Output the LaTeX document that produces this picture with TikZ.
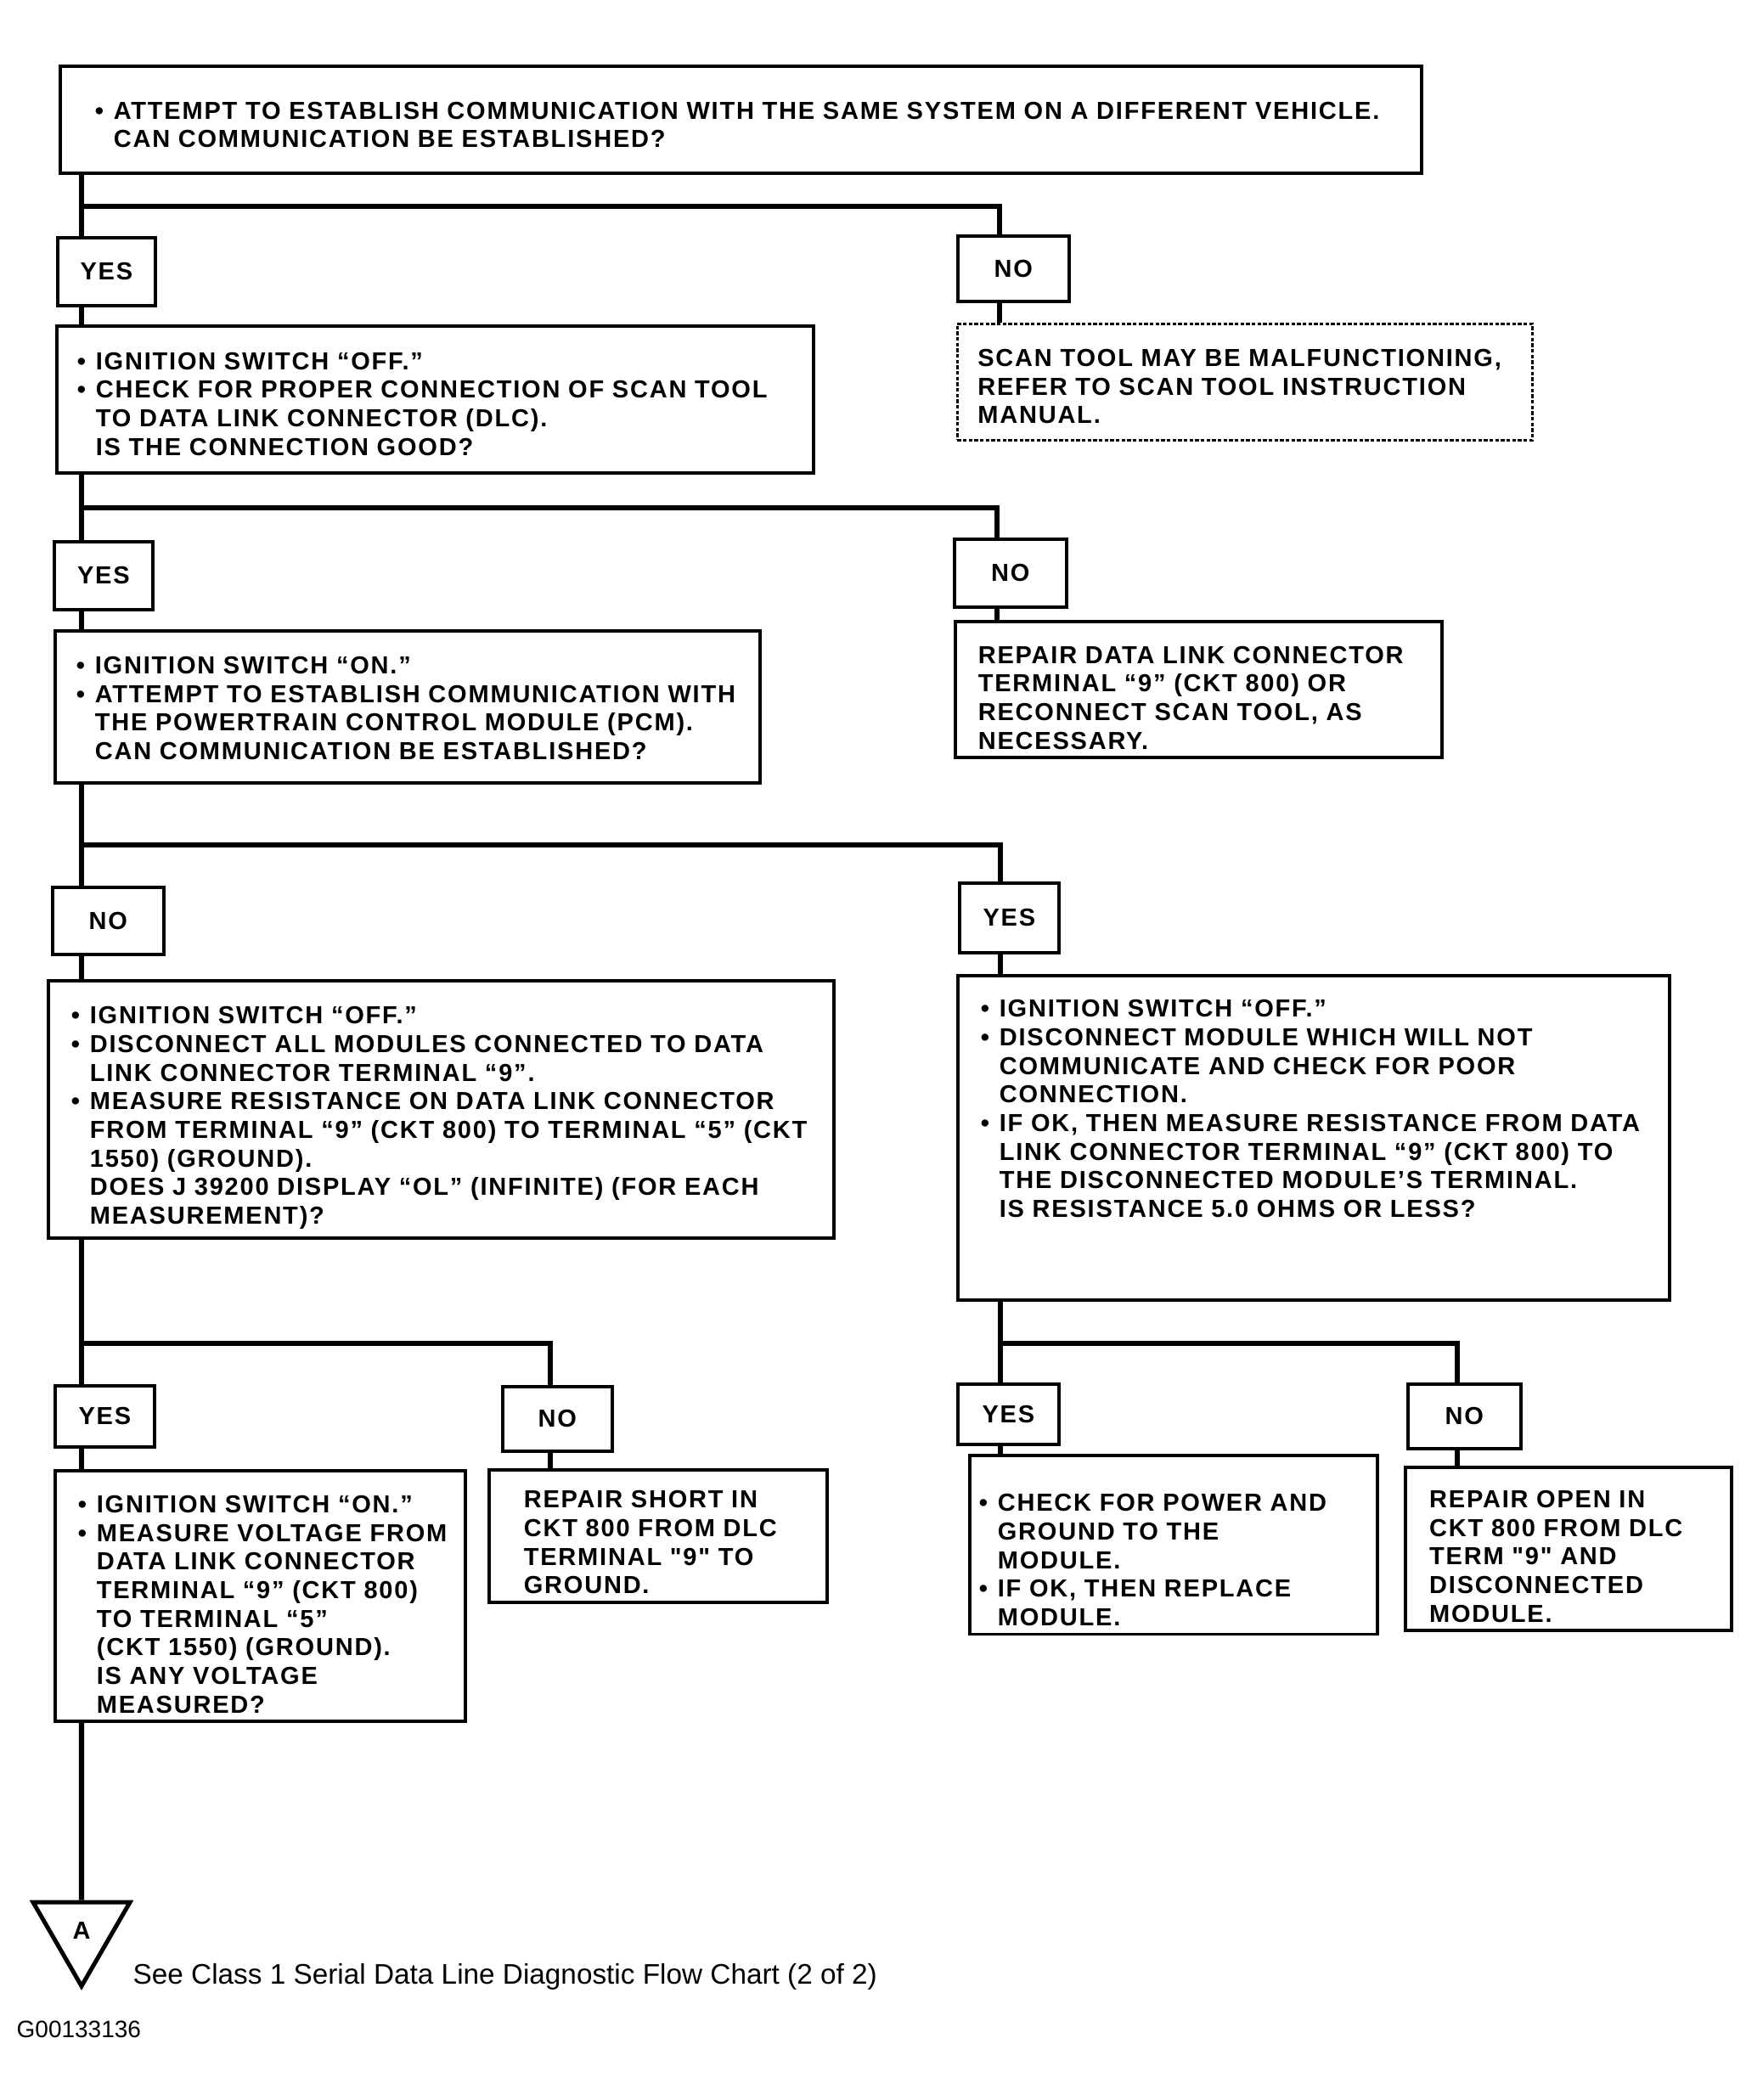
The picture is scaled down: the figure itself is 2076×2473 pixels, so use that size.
\documentclass[tikz,border=0pt]{standalone}
\usepackage{fontspec}
\setmainfont{Liberation Sans}
\newfontfamily\chartfamily{Liberation Sans}[LetterSpace=6.2]
\usetikzlibrary{shapes.geometric}
\newcommand\chartfont{\chartfamily\bfseries\fontsize{8.7}{10.1}\selectfont}
\newcommand\itembul{\makebox[6.6pt][l]{\textbullet}}
\newcommand\contind{\hspace*{6.6pt}}
% lines of a box, first row raised to #1
\newcommand\boxlines[2]{\begin{tabular}{@{}l@{}}\rule{0pt}{#1}#2\end{tabular}}

\begin{document}
\begin{tikzpicture}[x=0.3pt, y=-0.3pt,
box/.style={draw, line width=1.1pt, anchor=north west, align=left, inner ysep=0pt, font=\chartfont},
dotbox/.style={box, line width=0.8pt, dash pattern=on 1.3pt off 0.7pt},
answer/.style={draw, line width=1.1pt, anchor=north west, align=center, inner sep=0pt, font=\chartfont},
link/.style={line width=1.9pt},
]
\useasboundingbox (0,0) rectangle (2076,2473);

%Nodes
\node[box, minimum width=480.9pt, minimum height=37.8pt, inner xsep=12.3pt, text width=456.3pt] (attempt) at (69,76)
  {\boxlines{12.8pt}{\itembul ATTEMPT TO ESTABLISH COMMUNICATION WITH THE SAME SYSTEM ON A DIFFERENT VEHICLE.\\
   \contind CAN COMMUNICATION BE ESTABLISHED?}};
\node[answer, minimum width=34.5pt, minimum height=24pt] (yes1) at (66,278) {YES};
\node[answer, minimum width=39.3pt, minimum height=23.1pt] (no1) at (1126,276) {NO};
\node[box, minimum width=267.3pt, minimum height=51.9pt, inner xsep=7.2pt, text width=252.9pt] (ignoff) at (65,382)
  {\boxlines{12.3pt}{\itembul IGNITION SWITCH “OFF.”\\
   \itembul CHECK FOR PROPER CONNECTION OF SCAN TOOL\\
   \contind TO DATA LINK CONNECTOR (DLC).\\
   \contind IS THE CONNECTION GOOD?}};
\node[dotbox, minimum width=203.1pt, minimum height=41.1pt, inner xsep=7.2pt, text width=188.7pt] (scanbad) at (1126,380)
  {\boxlines{12.3pt}{SCAN TOOL MAY BE MALFUNCTIONING,\\
   REFER TO SCAN TOOL INSTRUCTION\\
   MANUAL.}};
\node[answer, minimum width=34.8pt, minimum height=24pt] (yes2) at (62,636) {YES};
\node[answer, minimum width=39.6pt, minimum height=24pt] (no2) at (1122,633) {NO};
\node[box, minimum width=249pt, minimum height=53.7pt, inner xsep=7.5pt, text width=234pt] (ignon) at (63,741)
  {\boxlines{10pt}{\itembul IGNITION SWITCH “ON.”\\
   \itembul ATTEMPT TO ESTABLISH COMMUNICATION WITH\\
   \contind THE POWERTRAIN CONTROL MODULE (PCM).\\
   \contind CAN COMMUNICATION BE ESTABLISHED?}};
\node[box, minimum width=171.9pt, minimum height=48pt, inner xsep=8.1pt, text width=155.7pt] (repairdlc) at (1123,730)
  {\boxlines{14.8pt}{REPAIR DATA LINK CONNECTOR\\
   TERMINAL “9” (CKT 800) OR\\
   RECONNECT SCAN TOOL, AS\\
   NECESSARY.}};
\node[answer, minimum width=39.3pt, minimum height=23.7pt] (no3) at (60,1043) {NO};
\node[answer, minimum width=35.1pt, minimum height=24.6pt] (yes3) at (1128,1038) {YES};
\node[box, minimum width=277.5pt, minimum height=90.9pt, inner xsep=8.1pt, text width=261.3pt] (measres) at (55,1153)
  {\boxlines{13.4pt}{\itembul IGNITION SWITCH “OFF.”\\
   \itembul DISCONNECT ALL MODULES CONNECTED TO DATA\\
   \contind LINK CONNECTOR TERMINAL “9”.\\
   \itembul MEASURE RESISTANCE ON DATA LINK CONNECTOR\\
   \contind FROM TERMINAL “9” (CKT 800) TO TERMINAL “5” (CKT\\
   \contind 1550) (GROUND).\\
   \contind DOES J 39200 DISPLAY “OL” (INFINITE) (FOR EACH\\
   \contind MEASUREMENT)?}};
\node[box, minimum width=251.4pt, minimum height=114.6pt, inner xsep=8.1pt, text width=235.2pt] (modchk) at (1126,1147)
  {\boxlines{10.2pt}{\itembul IGNITION SWITCH “OFF.”\\
   \itembul DISCONNECT MODULE WHICH WILL NOT\\
   \contind COMMUNICATE AND CHECK FOR POOR\\
   \contind CONNECTION.\\
   \itembul IF OK, THEN MEASURE RESISTANCE FROM DATA\\
   \contind LINK CONNECTOR TERMINAL “9” (CKT 800) TO\\
   \contind THE DISCONNECTED MODULE’S TERMINAL.\\
   \contind IS RESISTANCE 5.0 OHMS OR LESS?\\[11.5pt]
   \mbox{}}};
\node[answer, minimum width=35.1pt, minimum height=21.6pt] (yes4) at (63,1630) {YES};
\node[answer, minimum width=38.7pt, minimum height=22.8pt] (no4) at (590,1631) {NO};
\node[answer, minimum width=35.7pt, minimum height=21.3pt] (yes5) at (1126,1628) {YES};
\node[answer, minimum width=39.9pt, minimum height=22.8pt] (no5) at (1656,1628) {NO};
\node[box, minimum width=144.9pt, minimum height=88.2pt, inner xsep=8.1pt, text width=128.7pt] (measvolt) at (63,1730)
  {\boxlines{14.9pt}{\itembul IGNITION SWITCH “ON.”\\
   \itembul MEASURE VOLTAGE FROM\\
   \contind DATA LINK CONNECTOR\\
   \contind TERMINAL “9” (CKT 800)\\
   \contind TO TERMINAL “5”\\
   \contind (CKT 1550) (GROUND).\\
   \contind IS ANY VOLTAGE\\
   \contind MEASURED?}};
\node[box, minimum width=119.4pt, minimum height=46.5pt, inner xsep=12.3pt, text width=94.8pt] (repairshort) at (574,1729)
  {\boxlines{13.5pt}{REPAIR SHORT IN\\
   CKT 800 FROM DLC\\
   TERMINAL "9" TO\\
   GROUND.}};
\node[box, minimum width=144pt, minimum height=62.4pt, inner xsep=3.3pt, text width=137.4pt] (checkpower) at (1140,1712)
  {\boxlines{19.8pt}{\itembul CHECK FOR POWER AND\\
   \contind GROUND TO THE\\
   \contind MODULE.\\
   \itembul IF OK, THEN REPLACE\\
   \contind MODULE.}};
\node[box, minimum width=115.2pt, minimum height=57.6pt, inner xsep=8.5pt, text width=98.2pt] (repairopen) at (1653,1726)
  {\boxlines{14.3pt}{REPAIR OPEN IN\\
   CKT 800 FROM DLC\\
   TERM "9" AND\\
   DISCONNECTED\\
   MODULE.}};
\node[regular polygon, regular polygon sides=3, shape border rotate=180, draw, line width=1.5pt,
  minimum size=39.5pt, inner sep=0pt, font=\chartfont] (pagea) at (96,2273) {A};
\node[anchor=west, inner sep=0pt, font=\fontsize{10}{12}\selectfont] (seenote) at (156,2328)
  {See Class 1 Serial Data Line Diagnostic Flow Chart (2 of 2)};
\node[anchor=west, inner sep=0pt, font=\fontsize{8.4}{10}\selectfont] (figid) at (19,2390) {G00133136};

%Lines
\coordinate (lx) at (96,0);
\coordinate (b1) at (1177,243);
\coordinate (b2) at (1174,598);
\coordinate (b3) at (1178,995);
\coordinate (b4) at (648,1582);
\coordinate (b5) at (1716,1582);

\draw[link] (attempt.south -| lx) -- (yes1.north -| lx);
\draw[link] (b1 -| lx) -- (b1) -- (no1.north -| b1);
\draw[link] (yes1.south -| lx) -- (ignoff.north -| lx);
\draw[link] (no1.south -| b1) -- (scanbad.north -| b1);
\draw[link] (ignoff.south -| lx) -- (yes2.north -| lx);
\draw[link] (b2 -| lx) -- (b2) -- (no2.north -| b2);
\draw[link] (yes2.south -| lx) -- (ignon.north -| lx);
\draw[link] (no2.south -| b2) -- (repairdlc.north -| b2);
\draw[link] (ignon.south -| lx) -- (no3.north -| lx);
\draw[link] (b3 -| lx) -- (b3) -- (yes3.north -| b3);
\draw[link] (no3.south -| lx) -- (measres.north -| lx);
\draw[link] (yes3.south -| b3) -- (modchk.north -| b3);
\draw[link] (measres.south -| lx) -- (yes4.north -| lx);
\draw[link] (b4 -| lx) -- (b4) -- (no4.north -| b4);
\draw[link] (modchk.south -| b3) -- (yes5.north -| b3);
\draw[link] (b5 -| b3) -- (b5) -- (no5.north -| b5);
\draw[link] (yes4.south -| lx) -- (measvolt.north -| lx);
\draw[link] (no4.south -| b4) -- (repairshort.north -| b4);
\draw[link] (yes5.south -| b3) -- (checkpower.north -| b3);
\draw[link] (no5.south -| b5) -- (repairopen.north -| b5);
\draw[link] (measvolt.south -| lx) -- (pagea.north);

\end{tikzpicture}
\end{document}
